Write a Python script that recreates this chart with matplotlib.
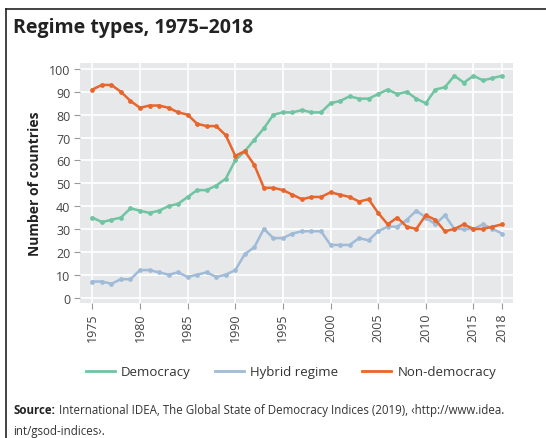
import matplotlib.pyplot as plt
from matplotlib.lines import Line2D

# Regime types, 1975-2018
years = list(range(1975, 2019))
democracy = [35, 33, 34, 35, 39, 38, 37, 38, 40, 41, 44, 47, 47, 49, 52, 60, 64, 69, 74, 80,
             81, 81, 82, 81, 81, 85, 86, 88, 87, 87, 89, 91, 89, 90, 87, 85, 91, 92, 97, 94,
             97, 95, 96, 97]
hybrid = [7, 7, 6, 8, 8, 12, 12, 11, 10, 11, 9, 10, 11, 9, 10, 12, 19, 22, 30, 26,
          26, 28, 29, 29, 29, 23, 23, 23, 26, 25, 29, 31, 31, 34, 38, 35, 32, 36, 30, 30,
          30, 32, 30, 28]
non_democracy = [91, 93, 93, 90, 86, 83, 84, 84, 83, 81, 80, 76, 75, 75, 71, 62, 64, 58, 48, 48,
                 47, 45, 43, 44, 44, 46, 45, 44, 42, 43, 37, 32, 35, 31, 30, 36, 34, 29, 30, 32,
                 30, 30, 31, 32]
xticks = [1975, 1980, 1985, 1990, 1995, 2000, 2005, 2010, 2015, 2018]

c_dem = '#6fc4a1'
c_hyb = '#9fbbd8'
c_non = '#e8652b'
plt.rcParams['font.family'] = ['Open Sans', 'DejaVu Sans']

fig = plt.figure(figsize=(5.46, 4.39), dpi=100)
ax = fig.add_axes([0.1465, 0.3075, 0.793, 0.5467])
ax.set_facecolor('#e7e8ea')

for vals, col in [(democracy, c_dem), (hybrid, c_hyb), (non_democracy, c_non)]:
    ax.plot(years, vals, color=col, lw=1.8, marker='o', ms=2.4, zorder=3)

ax.set_xlim(1973.7, 2019.15)
ax.set_ylim(-2.4, 102.6)
ax.set_yticks(range(0, 101, 10))
ax.set_xticks(xticks)
ax.set_xticklabels([str(x) for x in xticks], rotation=90)
ax.grid(True, color='white', lw=1.2)
ax.set_axisbelow(True)
for s in ax.spines.values():
    s.set_visible(False)
ax.tick_params(axis='both', colors='#999999', labelcolor='#444444', length=4, width=0.8,
               labelsize=9, pad=3)
ax.set_ylabel('Number of countries', fontsize=10, fontweight='bold', color='#222222', labelpad=5)

# frame around the figure (top and left)
fig.add_artist(Line2D([6 / 546, 6 / 546], [0, 1 - 10 / 439], color='#222222', lw=1.2))
fig.add_artist(Line2D([6 / 546, 1], [1 - 10 / 439, 1 - 10 / 439], color='#222222', lw=1.2))

fig.text(13 / 546, 1 - 28 / 439, 'Regime types, 1975–2018', fontsize=14, fontweight='bold',
         color='#222222', va='center', ha='left')

handles = [Line2D([], [], color=c_dem, lw=2), Line2D([], [], color=c_hyb, lw=2),
           Line2D([], [], color=c_non, lw=2)]
fig.legend(handles, ['Democracy', 'Hybrid regime', 'Non-democracy'], loc='center',
           bbox_to_anchor=(291 / 546, 1 - 373 / 439), ncol=3, frameon=False, fontsize=9.5,
           handlelength=2.2, handletextpad=0.5, columnspacing=1.8, labelcolor='#333333')

fig.text(13 / 546, 1 - 411 / 439, 'Source:', fontsize=8.3, fontweight='bold', color='#222222',
         va='center', ha='left')
fig.text(59 / 546, 1 - 411 / 439,
         'International IDEA, The Global State of Democracy Indices (2019), ‹http://www.idea.',
         fontsize=8.3, color='#333333', va='center', ha='left')
fig.text(13 / 546, 1 - 432 / 439, 'int/gsod-indices›.', fontsize=8.3, color='#333333',
         va='center', ha='left')

fig.savefig('out.png', dpi=100)
